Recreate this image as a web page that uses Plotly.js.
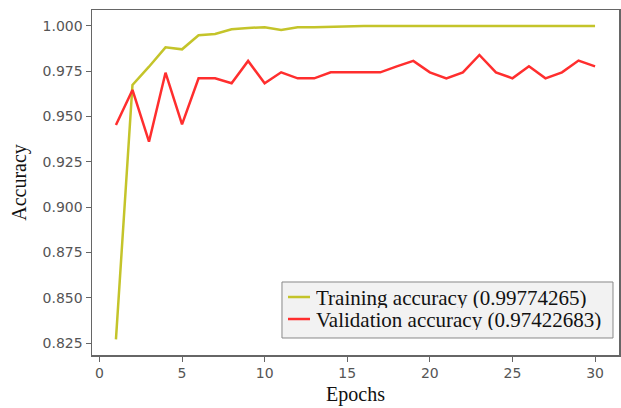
<!DOCTYPE html>
<html>
<head>
<meta charset="utf-8">
<script src="https://cdn.plot.ly/plotly-3.0.1.min.js"></script>
<style>html,body{margin:0;padding:0;background:#fff;}#chart{width:621px;height:408px;}</style>
</head>
<body>
<div id="chart"></div>
<script>
const epochs = [1,2,3,4,5,6,7,8,9,10,11,12,13,14,15,16,17,18,19,20,21,22,23,24,25,26,27,28,29,30];
const trainingAcc = [0.827,0.9674,0.9775,0.9882,0.9871,0.9949,0.9956,0.9982,0.9989,0.9993,0.9978,0.9993,0.9993,0.9996,1.0,1.0,1.0,1.0,1.0,1.0,1.0,1.0,1.0,1.0,1.0,1.0,1.0,1.0,1.0,1.0];
const validationAcc = [0.9453,0.9647,0.9361,0.9742,0.9457,0.9711,0.9711,0.9684,0.9807,0.9684,0.9744,0.9711,0.9711,0.9744,0.9744,0.9744,0.9744,0.9777,0.9807,0.9744,0.9711,0.9744,0.9840,0.9744,0.9711,0.9777,0.9711,0.9744,0.9809,0.9777];
const trainingLabel = "Training accuracy (0.99774265)";
const validationLabel = "Validation accuracy (0.97422683)";
const yTicks = [0.825,0.850,0.875,0.900,0.925,0.950,0.975,1.000];
const xTicks = [0,5,10,15,20,25,30];

const trainColor = '#c4c42a';
const valColor = '#ff2e2e';

const traces = [
  {x: epochs, y: trainingAcc, name: trainingLabel, mode: 'lines', line: {color: trainColor, width: 2.5}},
  {x: epochs, y: validationAcc, name: validationLabel, mode: 'lines', line: {color: valColor, width: 2.5}}
];

// custom compact legend (paper coordinates)
const legendBox = {x0: 0.3605, x1: 0.9886, y0: 0.0493, y1: 0.2116};
const legendRows = [
  {label: trainingLabel, color: trainColor, y: 0.1681},
  {label: validationLabel, color: valColor, y: 0.1043}
];
const shapes = [{
  type: 'rect', xref: 'paper', yref: 'paper',
  x0: legendBox.x0, x1: legendBox.x1, y0: legendBox.y0, y1: legendBox.y1,
  fillcolor: '#f2f2f2', line: {color: '#888', width: 1}, layer: 'above'
}];
const annotations = [];
legendRows.forEach(r => {
  shapes.push({type: 'line', xref: 'paper', yref: 'paper', x0: 0.3719, x1: 0.4137, y0: r.y, y1: r.y,
    line: {color: r.color, width: 2.5}, layer: 'above'});
  annotations.push({xref: 'paper', yref: 'paper', x: 0.4238, y: r.y, xanchor: 'left', yanchor: 'middle',
    text: r.label, showarrow: false, height: 21, borderpad: 0,
    font: {family: 'Liberation Serif', size: 21, color: '#111'}});
});

const tickFont = {family: 'DejaVu Sans', size: 14, color: '#555'};
const layout = {
  width: 621, height: 408,
  margin: {l: 92, r: 2, t: 10, b: 53},
  paper_bgcolor: '#fff', plot_bgcolor: '#fff',
  showlegend: false,
  shapes: shapes,
  annotations: annotations,
  xaxis: {
    range: [-0.45, 31.45], tickvals: xTicks, ticktext: xTicks.map(String),
    showgrid: false, zeroline: false, showline: true, linecolor: '#666', linewidth: 1.5, mirror: true,
    ticks: 'outside', ticklen: 5, tickcolor: '#666', tickfont: tickFont,
    title: {text: 'Epochs', font: {family: 'Liberation Serif', size: 20, color: '#111'}, standoff: 6}
  },
  yaxis: {
    range: [0.8184, 1.0088], tickvals: yTicks, ticktext: yTicks.map(v => v.toFixed(3)),
    showgrid: false, zeroline: false, showline: true, linecolor: '#666', linewidth: 1.5, mirror: true,
    ticks: 'outside', ticklen: 5, tickcolor: '#666', tickfont: tickFont,
    title: {text: 'Accuracy', font: {family: 'Liberation Serif', size: 20, color: '#111'}, standoff: 10}
  }
};
Plotly.newPlot('chart', traces, layout, {displayModeBar: false, staticPlot: true});
</script>
</body>
</html>
